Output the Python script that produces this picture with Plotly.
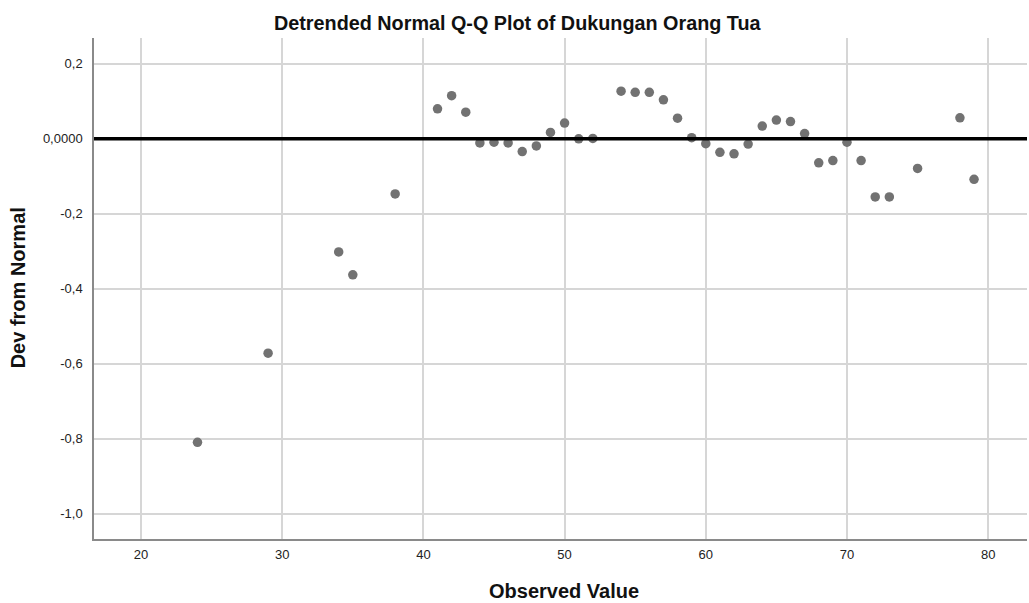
import plotly.graph_objects as go

observed = [24, 29, 34, 35, 38, 41, 42, 43, 44, 45, 46, 47, 48, 49, 50, 51, 52,
            54, 55, 56, 57, 58, 59, 60, 61, 62, 63, 64, 65, 66, 67, 68, 69, 70,
            71, 72, 73, 75, 78, 79]
dev_from_normal = [-0.810, -0.572, -0.302, -0.363, -0.147, 0.080, 0.115, 0.071,
                   -0.011, -0.009, -0.011, -0.034, -0.019, 0.017, 0.042, 0.000,
                   0.001, 0.127, 0.124, 0.124, 0.104, 0.055, 0.003, -0.013,
                   -0.036, -0.040, -0.014, 0.034, 0.050, 0.046, 0.014, -0.064,
                   -0.058, -0.009, -0.058, -0.155, -0.155, -0.079, 0.056, -0.108]

x_ticks = [20, 30, 40, 50, 60, 70, 80]
x_tick_text = ["20", "30", "40", "50", "60", "70", "80"]
y_ticks = [0.2, 0.0, -0.2, -0.4, -0.6, -0.8, -1.0]
y_tick_text = ["0,2", "0,0000", "-0,2", "-0,4", "-0,6", "-0,8", "-1,0"]

title_text = "Detrended Normal Q-Q Plot of Dukungan Orang Tua"
x_title = "Observed Value"
y_title = "Dev from Normal"

FONT = "Liberation Sans, Arial, sans-serif"

fig = go.Figure()
fig.add_trace(go.Scatter(
    x=observed, y=dev_from_normal, mode="markers",
    marker=dict(size=9.5, color="#727272", line=dict(width=0)),
    showlegend=False, hoverinfo="x+y",
))

fig.add_hline(y=0, line=dict(color="#000000", width=3.5), layer="above")

axis_common = dict(
    showgrid=True, gridcolor="#d6d6d6", gridwidth=1.5,
    showline=True, linecolor="#8a8a8a", linewidth=1.5,
    zeroline=False, ticks="", mirror=False,
    tickfont=dict(family=FONT, size=13, color="#222222"),
)

fig.update_xaxes(range=[16.67, 82.75], tickmode="array", tickvals=x_ticks,
                 ticktext=x_tick_text, ticklabelstandoff=3, **axis_common)
fig.update_yaxes(range=[-1.068, 0.269], tickmode="array", tickvals=y_ticks,
                 ticktext=y_tick_text, ticklabelstandoff=7, **axis_common)

fig.update_layout(
    width=1029, height=603,
    margin=dict(l=94, r=2, t=38, b=64, pad=0),
    paper_bgcolor="#ffffff", plot_bgcolor="#ffffff",
    font=dict(family=FONT, color="#000000"),
    annotations=[
        dict(text="<b>" + title_text + "</b>", xref="paper", yref="paper",
             x=0.454, y=1.03, xanchor="center", yanchor="middle",
             showarrow=False, font=dict(family=FONT, size=19.8, color="#111111")),
        dict(text="<b>" + x_title + "</b>", xref="paper", yref="paper",
             x=0.504, y=-0.104, xanchor="center", yanchor="middle",
             showarrow=False, font=dict(family=FONT, size=20, color="#111111")),
        dict(text="<b>" + y_title + "</b>", xref="paper", yref="paper",
             x=-0.0811, y=0.501, xanchor="center", yanchor="middle",
             textangle=-90, showarrow=False,
             font=dict(family=FONT, size=20, color="#111111")),
    ],
)

fig.write_html("out.html")
